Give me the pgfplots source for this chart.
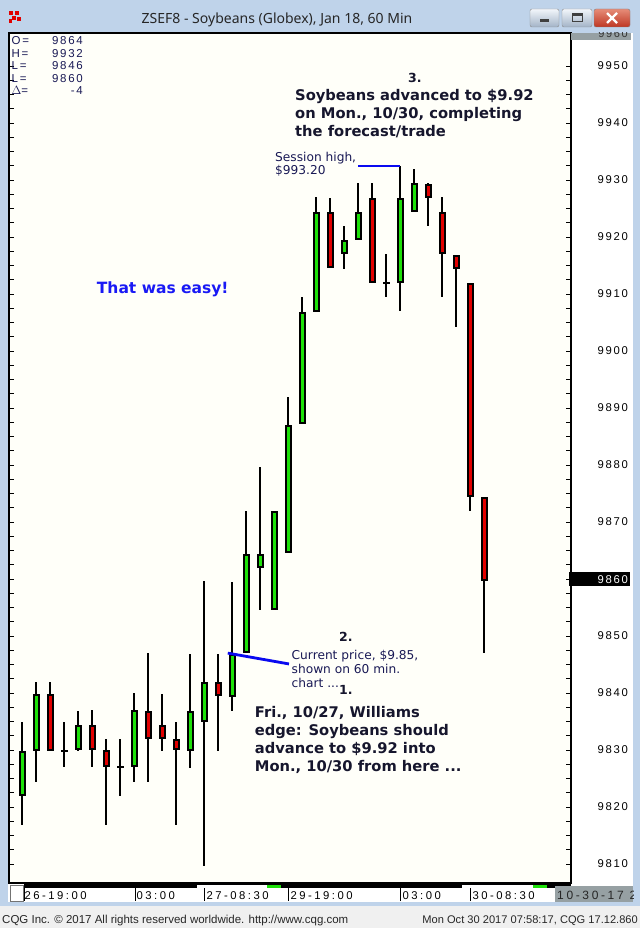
\documentclass[border=0pt]{standalone}
\usepackage{fontspec}
\setmainfont{Liberation Sans}
\newfontfamily\dv{DejaVu Sans}
\newfontfamily\titlefont{Noto Sans}
\newfontfamily\lab[LetterSpace=15]{Liberation Sans}
\newfontfamily\labdate[LetterSpace=22]{Liberation Sans}
\usepackage{pgfplots}
\usepackage{pgfplotstable}
\pgfplotsset{compat=1.18}

\definecolor{winframe}{RGB}{191,211,234}
\definecolor{plotbg}{RGB}{255,255,249}
\definecolor{upgreen}{RGB}{30,225,10}
\definecolor{downred}{RGB}{225,0,0}
\definecolor{annotdark}{RGB}{22,22,45}
\definecolor{annotsmall}{RGB}{25,25,85}
\definecolor{easyblue}{RGB}{25,25,245}
\definecolor{lineblue}{RGB}{10,10,240}
\definecolor{statusbg}{RGB}{240,240,240}
\definecolor{datebox}{RGB}{150,160,163}

% hourly candles: index, open, high, low, close
\pgfplotstableread{
i  o      h      l      c
1  9822   9835   9817   9830
2  9830   9842   9824.5 9840
3  9840   9842   9830   9830
4  9830   9835   9827   9830
5  9830   9837   9830   9834.5
6  9834.5 9837   9827   9830
7  9830   9832   9817   9827
8  9827   9832   9822   9827
9  9827   9840   9824.5 9837
10 9837   9847   9824.5 9832
11 9834.5 9840   9830   9832
12 9832   9835   9817   9830
13 9830   9847   9827   9837
14 9835   9859.6 9809.6 9842
15 9842   9847   9830   9839.5
16 9839.5 9859.6 9837   9847
17 9847   9872   9847   9864.5
18 9862   9879.6 9854.6 9864.5
19 9854.6 9872   9854.6 9872
20 9864.6 9892   9864.6 9887
21 9887.3 9909.6 9887.3 9907
22 9907   9927   9907   9924.4
23 9924.4 9927   9914.6 9914.6
24 9917   9922   9914.5 9919.5
25 9919.6 9929.6 9919.6 9924.4
26 9927   9929.6 9912   9912
27 9912   9917   9909.5 9912
28 9912   9932.5 9907   9927
29 9924.5 9932   9924.5 9929.5
30 9929.5 9929.5 9922   9927
31 9924.4 9927   9909.5 9917
32 9917   9917   9904.4 9914.5
33 9912   9912   9872   9874.4
34 9874.4 9874.4 9847   9859.6
}\candles

\newcommand\bigann{\dv\bfseries\fontsize{14.7}{17.7}\selectfont}
\newcommand\smallann{\dv\fontsize{12.2}{14}\selectfont}

\begin{document}
\begin{tikzpicture}
% window chrome
\begin{scope}[x=1pt,y=-1pt]
  \fill[winframe] (0,0) rectangle (640,928);
  \fill[white] (8,33) rectangle (633,902);
  \fill[statusbg] (0,906) rectangle (640,928);
  % title icon
  \fill[downred] (9,11) rectangle (13,15); \fill[downred] (15,11) rectangle (19,15);
  \fill[downred] (12,16) rectangle (16,20); \fill[downred] (17,17) rectangle (21,21);
  \fill[downred] (9,19) rectangle (12,23);
  \node[anchor=base, inner sep=0pt, font=\titlefont\fontsize{14}{14}\selectfont, text=black!85]
    at (277,24) {ZSEF8 - Soybeans (Globex), Jan 18, 60 Min};
  % buttons
  \shade[top color=white!80!winframe, bottom color=winframe!85!black, draw=black!45, rounded corners=2pt]
    (530,9) rectangle (559,27);
  \fill[black!75] (540,19) rectangle (549,22);
  \shade[top color=white!80!winframe, bottom color=winframe!85!black, draw=black!45, rounded corners=2pt]
    (562,9) rectangle (592,27);
  \draw[black!75, line width=1pt] (572,14) rectangle (582,22); \draw[black!75, line width=2pt] (572,15)--(582,15);
  \shade[top color={rgb,255:red,230;green,140;blue,120}, bottom color={rgb,255:red,190;green,55;blue,35},
    draw=black!50, rounded corners=2pt] (594,9) rectangle (630,27);
  \draw[white, line width=2.2pt] (607,13)--(617,23) (607,23)--(617,13);
\end{scope}

\begin{axis}[
  at={(9pt,-883pt)}, anchor=south west,
  scale only axis, width=562pt, height=850pt,
  xmin=0.0714, xmax=40.214,
  ymin=9806.67, ymax=9955.79,
  axis background/.style={fill=plotbg},
  axis line style={black, line width=1.3pt},
  tick align=inside,
  ytick={9810,9820,...,9950},
  yticklabels={9810,9820,9830,9840,9850,{},9870,9880,9890,9900,9910,9920,9930,9940,9950},
  minor y tick num=3,
  major tick length=5pt, minor tick length=5pt,
  tick style={black, line width=0.8pt},
  yticklabel pos=right,
  yticklabel style={anchor=east, inner sep=0pt, xshift=57pt, font=\lab\fontsize{11.3}{11.3}\selectfont},
  xtick={1.1,9.1,14.1,20.1,28.1,33.1},
  xticklabels={26-19:00,03:00,27-08:30,29-19:00,03:00,30-08:30},
  xtick style={draw=none},
  xticklabel style={anchor=north west, inner sep=0pt, yshift=-8.5pt, xshift=1pt, font=\labdate\fontsize{11.3}{11.3}\selectfont},
  /pgf/number format/assume math mode=true,
  /pgf/number format/1000 sep={},
  clip=false,
]
  % wicks
  \addplot[draw=none, mark=none, forget plot,
    error bars/.cd, y dir=both, y explicit, error mark=none,
    error bar style={draw=black, line width=2.2pt}]
    table[x=i, y expr={(\thisrow{h}+\thisrow{l})/2}, y error expr={(\thisrow{h}-\thisrow{l})/2}] {\candles};
  % body outlines
  \addplot[draw=none, mark=none, forget plot,
    error bars/.cd, y dir=both, y explicit, error mark=none,
    error bar style={draw=black, line width=7pt}]
    table[x=i, y expr={(\thisrow{o}+\thisrow{c})/2}, y error expr={max(abs(\thisrow{c}-\thisrow{o})/2,0.18)}] {\candles};
  % up bodies
  \addplot[draw=none, mark=none, forget plot,
    error bars/.cd, y dir=both, y explicit, error mark=none,
    error bar style={draw=upgreen, line width=3pt}]
    table[x=i, y expr={(\thisrow{o}+\thisrow{c})/2}, y error expr={max((\thisrow{c}-\thisrow{o})/2-0.35,0)}] {\candles};
  % down bodies
  \addplot[draw=none, mark=none, forget plot,
    error bars/.cd, y dir=both, y explicit, error mark=none,
    error bar style={draw=downred, line width=3pt}]
    table[x=i, y expr={(\thisrow{o}+\thisrow{c})/2}, y error expr={max((\thisrow{o}-\thisrow{c})/2-0.35,0)}] {\candles};
  % annotation pointers
  \draw[lineblue, line width=2.5pt] (axis cs:25,9932.5) -- (axis cs:28,9932.5);
  \draw[lineblue, line width=2.8pt] (axis cs:15.7,9847) -- (axis cs:20.07,9845.1);
\end{axis}

\begin{scope}[x=1pt,y=-1pt]
  % top-right cut label
  \fill[datebox] (571,33) rectangle (631,40);
  \begin{scope}
    \clip (571,33) rectangle (631,40);
    \node[anchor=base east, inner sep=0pt, font=\lab\fontsize{11}{11}\selectfont, text=black!80] at (628,37.5) {9960};
  \end{scope}
  % current price box
  \fill[black] (569,572) rectangle (630,586);
  \node[anchor=base east, inner sep=0pt, font=\lab\fontsize{11.3}{11.3}\selectfont, text=white] at (628,583) {9860};
  % date strip
  \fill[black] (24,884) rectangle (571,888);
  \fill[white] (197,885) rectangle (267,888);
  \fill[upgreen] (267,885) rectangle (281,888);
  \fill[white] (462,885) rectangle (533,888);
  \fill[upgreen] (533,885) rectangle (547,888);
  \foreach \sx in {24,135,204,288,400,470} \draw[black, line width=0.8pt] (\sx,888) -- (\sx,901);
  \draw[black!55, fill=white] (10,885) rectangle (23,901);
  \fill[datebox] (555,886) rectangle (633,902);
  \begin{scope}
    \clip (555,886) rectangle (633,902);
    \node[anchor=base west, inner sep=0pt, font=\labdate\fontsize{12}{12}\selectfont, text=black!85] at (557,899) {10-30-17 2};
  \end{scope}
  % OHLC readout
  \begin{scope}[font=\lab\fontsize{11.5}{11.5}\selectfont, text=annotsmall, inner sep=0pt]
    \node[anchor=base west] at (11.5,44.7) {O=}; \node[anchor=base east] at (83,44.7) {9864};
    \node[anchor=base west] at (11.5,57.2) {H=}; \node[anchor=base east] at (83,57.2) {9932};
    \node[anchor=base west] at (11.5,69.7) {L=}; \node[anchor=base east] at (83,69.7) {9846};
    \node[anchor=base west] at (11.5,82.2) {L=}; \node[anchor=base east] at (83,82.2) {9860};
    \node[anchor=base west] at (11.5,94.7) {$\Delta$=}; \node[anchor=base east] at (83,94.7) {-4};
  \end{scope}
  % annotations
  \begin{scope}[inner sep=0pt, text=annotdark]
    \node[anchor=base west, font=\dv\bfseries\fontsize{12.5}{12.5}\selectfont] at (408,82.5) {3.};
    \node[anchor=base west, font=\bigann] at (295,101) {Soybeans advanced to \$9.92};
    \node[anchor=base west, font=\bigann] at (295,118.6) {on Mon., 10/30, completing};
    \node[anchor=base west, font=\bigann] at (295,136.2) {the forecast/trade};
    \node[anchor=base west, font=\dv\bfseries\fontsize{12.5}{12.5}\selectfont] at (339,641.7) {2.};
    \node[anchor=base west, font=\dv\bfseries\fontsize{12.5}{12.5}\selectfont] at (339,694.3) {1.};
    \node[anchor=base west, font=\bigann] at (254.7,717.3) {Fri., 10/27, Williams};
    \node[anchor=base west, font=\bigann] at (254.7,735.3) {edge: Soybeans should};
    \node[anchor=base west, font=\bigann] at (254.7,753.3) {advance to \$9.92 into};
    \node[anchor=base west, font=\bigann] at (254.7,771.3) {Mon., 10/30 from here ...};
  \end{scope}
  \begin{scope}[inner sep=0pt, text=annotsmall, font=\smallann]
    \node[anchor=base west] at (275,161) {Session high,};
    \node[anchor=base west] at (275,175) {\$993.20};
    \node[anchor=base west] at (291.5,659.3) {Current price, \$9.85,};
    \node[anchor=base west] at (291.5,673) {shown on 60 min.};
    \node[anchor=base west] at (291.5,687) {chart ...};
  \end{scope}
  \node[anchor=base west, inner sep=0pt, text=easyblue, font=\dv\bfseries\fontsize{15.5}{15.5}\selectfont]
    at (96.7,293.3) {That was easy!};
  % status bar
  \node[anchor=base west, inner sep=0pt, font=\fontsize{11.5}{11.5}\selectfont, text=black!85] at (2,923)
    {CQG Inc. \textcopyright{} 2017 All rights reserved worldwide. http://www.cqg.com};
  \node[anchor=base east, inner sep=0pt, font=\fontsize{11.1}{11.1}\selectfont, text=black!85] at (638,923)
    {Mon Oct 30 2017 07:58:17, CQG 17.12.860};
\end{scope}
\pgfresetboundingbox
\useasboundingbox (0,0) rectangle (640pt,-928pt);
\end{tikzpicture}
\end{document}
